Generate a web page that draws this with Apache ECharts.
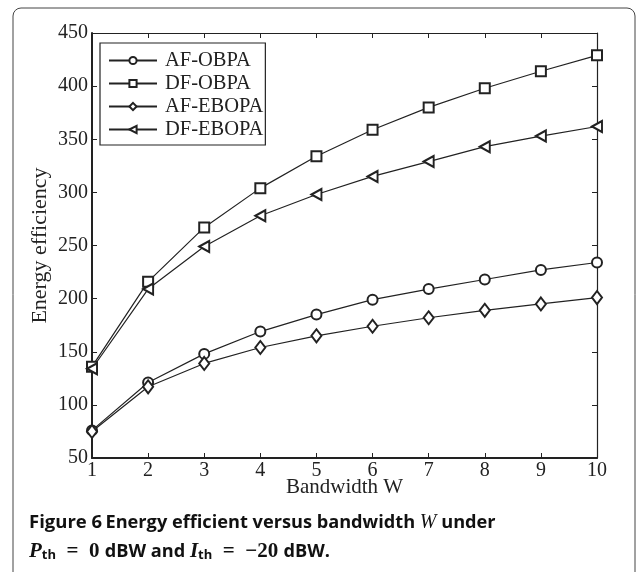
<!DOCTYPE html>
<html>
<head>
<meta charset="utf-8">
<script src="https://cdn.jsdelivr.net/npm/echarts@6/dist/echarts.min.js"></script>
<style>
  html, body { margin: 0; padding: 0; background: #fff; }
  #chart { width: 637px; height: 572px; }
</style>
</head>
<body>
<div id="chart"></div>
<script>
// bandwidth W on the x axis
const bandwidth = [1, 2, 3, 4, 5, 6, 7, 8, 9, 10];
// energy efficiency
const afObpa = [76, 121, 148, 169, 185, 199, 209, 218, 227, 234];
const dfObpa = [136, 216, 267, 304, 334, 359, 380, 398, 414, 429];
const afEbopa = [75, 117, 139, 154, 165, 174, 182, 189, 195, 201];
const dfEbopa = [134, 209, 249, 278, 298, 315, 329, 343, 353, 362];
const seriesNames = ['AF-OBPA', 'DF-OBPA', 'AF-EBOPA', 'DF-EBOPA'];

const serif = '"Liberation Serif", "DejaVu Serif", serif';
const sans = '"Open Sans", "Noto Sans", sans-serif';
const ink = '#222';

const chart = echarts.init(document.getElementById('chart'));

function pairs(values) {
    return bandwidth.map((x, i) => [x, values[i]]);
}

function makeSeries(name, values, symbol, rotate, size) {
    return {
        name: name,
        type: 'line',
        data: pairs(values),
        symbol: symbol,
        symbolSize: size,
        symbolRotate: rotate,
        showAllSymbol: true,
        lineStyle: { color: ink, width: 1.2 },
        itemStyle: { color: ink, borderColor: ink, borderWidth: 1.2 },
        emphasis: { disabled: true },
        animation: false,
        z: 3
    };
}

const tickLine = { show: true, inside: true, length: 5, lineStyle: { color: ink, width: 1 } };

const option = {
    backgroundColor: '#fff',
    animation: false,
    grid: { left: 92, top: 33, right: 40, bottom: 114 },
    legend: {
        orient: 'vertical',
        left: 100,
        top: 43,
        data: seriesNames,
        itemWidth: 48,
        itemHeight: 9,
        itemGap: 2,
        padding: [7, 2, 5, 8],
        borderColor: ink,
        borderWidth: 1.2,
        backgroundColor: '#fff',
        textStyle: { fontFamily: serif, fontSize: 20.5, color: ink, lineHeight: 21, padding: [0, 0, 0, 3] },
        selectedMode: false
    },
    xAxis: [
        {
            type: 'value', min: 1, max: 10, interval: 1,
            name: 'Bandwidth W', nameLocation: 'middle', nameGap: 19, nameMoveOverlap: false,
            nameTextStyle: { fontFamily: serif, fontSize: 21, color: ink },
            axisLine: { show: true, lineStyle: { color: ink, width: 2 } },
            axisTick: tickLine,
            axisLabel: { fontFamily: serif, fontSize: 20, color: ink, margin: 3 },
            splitLine: { show: false }
        },
        {
            type: 'value', min: 1, max: 10, interval: 1, position: 'top',
            axisLine: { show: true, lineStyle: { color: ink, width: 1.2 } },
            axisTick: tickLine,
            axisLabel: { show: false },
            splitLine: { show: false }
        }
    ],
    yAxis: [
        {
            type: 'value', min: 50, max: 450, interval: 50,
            name: 'Energy efficiency', nameLocation: 'middle', nameGap: 41, nameMoveOverlap: false,
            nameTextStyle: { fontFamily: serif, fontSize: 22, color: ink },
            axisLine: { show: true, lineStyle: { color: ink, width: 2 } },
            axisTick: tickLine,
            axisLabel: { fontFamily: serif, fontSize: 20, color: ink, margin: 4 },
            splitLine: { show: false }
        },
        {
            type: 'value', min: 50, max: 450, interval: 50, position: 'right',
            axisLine: { show: true, lineStyle: { color: ink, width: 1.2 } },
            axisTick: tickLine,
            axisLabel: { show: false },
            splitLine: { show: false }
        }
    ],
    series: [
        makeSeries(seriesNames[0], afObpa, 'emptyCircle', 0, 10),
        makeSeries(seriesNames[1], dfObpa, 'emptyRect', 0, 10),
        makeSeries(seriesNames[2], afEbopa, 'emptyDiamond', 0, [10, 13]),
        makeSeries(seriesNames[3], dfEbopa, 'emptyTriangle', 90, [11, 10])
    ],
    graphic: [
        {
            type: 'rect',
            shape: { x: 13, y: 8, width: 622, height: 640, r: 8 },
            style: { fill: 'none', stroke: '#444', lineWidth: 1 },
            silent: true
        },
        {
            type: 'text',
            left: 29,
            top: 513,
            style: {
                text: '{b|Figure 6} {m|Energy efficient versus bandwidth }{w|W}{m| under}',
                rich: {
                    b: { fontFamily: sans, fontWeight: 'bold', fontSize: 18.5, fill: '#111' },
                    m: { fontFamily: sans, fontWeight: 'bold', fontSize: 18.2, fill: '#111' },
                    w: { fontFamily: serif, fontStyle: 'italic', fontSize: 20, fill: '#111' }
                }
            }
        },
        {
            type: 'text',
            left: 29,
            top: 541,
            style: {
                text: '{v|P}{s|th}{e|  =  0 }{m|dBW and }{v|I}{s|th}{e|  =  −20 }{m|dBW.}',
                rich: {
                    v: { fontFamily: serif, fontStyle: 'italic', fontWeight: 'bold', fontSize: 21, fill: '#111' },
                    s: { fontFamily: sans, fontWeight: 'bold', fontSize: 13, fill: '#111', padding: [8, 0, 0, 0] },
                    e: { fontFamily: serif, fontWeight: 'bold', fontSize: 21, fill: '#111' },
                    m: { fontFamily: sans, fontWeight: 'bold', fontSize: 18.2, fill: '#111' }
                }
            }
        }
    ]
};

chart.setOption(option);
</script>
</body>
</html>
